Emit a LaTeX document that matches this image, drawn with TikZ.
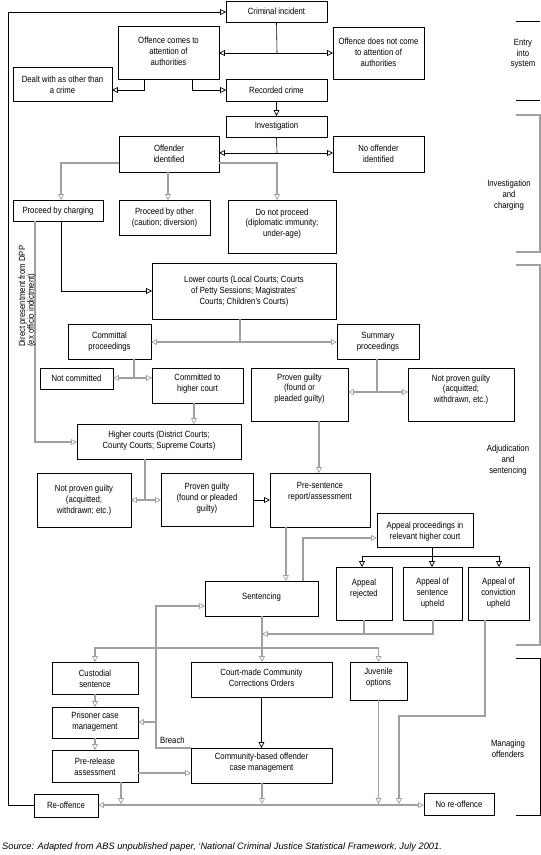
\documentclass[tikz,border=0pt]{standalone}
\usepackage{fontspec}
\setmainfont{Liberation Sans}
\newfontfamily\nfont[FakeStretch=0.86]{Liberation Sans}
\usetikzlibrary{arrows.meta}
\definecolor{grayc}{RGB}{160,160,160}
\newcommand\mkbox[7]{%
  \node[bxs, minimum width={(#4)-(#2)}, minimum height={(#5)-(#3)}] (#1) at ({((#2)+(#4))/2},{((#3)+(#5))/2}) {};
  \node[txt] (#1t) at ({((#2)+(#4))/2},#6) {#7};
}
\begin{document}
\begin{tikzpicture}[x=1pt,y=-1pt,
  >={Triangle[open,length=5.8pt,width=5.8pt,line width=0.7pt]},
  bxs/.style={draw,line width=0.7pt,inner sep=0pt,outer sep=0pt},
  txt/.style={font=\nfont\fontsize{9}{10.8}\selectfont,align=center,inner sep=0pt},
  blk/.style={line width=0.6pt,draw=black},
  gry/.style={line width=1.4pt,draw=grayc},
  brkb/.style={line width=0.8pt,draw=black},
  brkg/.style={line width=1.2pt,draw=grayc},
  ]
\fill[white] (0,0) rectangle (541,855);
\useasboundingbox (0,0) rectangle (541,855);

% boxes
\mkbox{ci}{226}{1}{327}{22}{11.5}{Criminal incident}
\mkbox{oca}{118}{26}{219}{79}{51.5}{Offence comes to\\attention of\\authorities}
\mkbox{onc}{333}{27}{424}{79}{52.5}{Offence does not come\\to attention of\\authorities}
\mkbox{dealt}{13}{67}{112}{101}{85}{Dealt with as other than\\a crime}
\mkbox{rec}{226}{79}{327}{101}{90.5}{Recorded crime}
\mkbox{inv}{226}{116}{327}{137}{126.5}{Investigation}
\mkbox{offid}{119}{136}{219}{172}{153.5}{Offender\\identified}
\mkbox{nooff}{333}{136}{424}{172}{153.5}{No offender\\identified}
\mkbox{pbc}{13}{200}{103}{221}{211}{Proceed by charging}
\mkbox{pbo}{119}{200}{210}{235}{217.5}{Proceed by other\\(caution; diversion)}
\mkbox{dnp}{228}{200}{336}{253}{223.5}{Do not proceed\\(diplomatic immunity;\\under-age)}
\mkbox{lc}{152}{263}{336}{319}{291}{Lower courts (Local Courts; Courts\\of Petty Sessions; Magistrates'\\Courts; Children's Courts)}
\mkbox{comm}{68}{324}{151}{359}{341.5}{Committal\\proceedings}
\mkbox{summ}{337}{324}{419}{359}{341.5}{Summary\\proceedings}
\mkbox{notcom}{40}{368}{113}{389}{378.5}{Not committed}
\mkbox{comhc}{152}{368}{243}{403}{383.5}{Committed to\\higher court}
\mkbox{pgs}{251}{368}{348}{421}{388.5}{Proven guilty\\(found or\\pleaded guilty)}
\mkbox{npgs}{408}{368}{514}{421}{389.5}{Not proven guilty\\(acquitted;\\withdrawn, etc.)}
\mkbox{hc}{77}{424}{241}{459}{440.5}{Higher courts (District Courts;\\County Courts; Supreme Courts)}
\mkbox{npgh}{37}{473}{131}{527}{500}{Not proven guilty\\(acquitted;\\withdrawn; etc.)}
\mkbox{pgh}{161}{473}{253}{526}{498}{Proven guilty\\(found or pleaded\\guilty)}
\mkbox{pres}{270}{473}{370}{527}{492}{Pre-sentence\\report/assessment}
\mkbox{app}{377}{513}{473}{547}{532}{Appeal proceedings in\\relevant higher court}
\mkbox{ar}{336}{567}{392}{620}{589}{Appeal\\rejected}
\mkbox{asu}{403}{567}{462}{620}{593}{Appeal of\\sentence\\upheld}
\mkbox{acu}{468}{567}{529}{620}{593}{Appeal of\\conviction\\upheld}
\mkbox{sent}{205}{581}{318}{616}{597.5}{Sentencing}
\mkbox{cust}{52}{662}{138}{694}{678.5}{Custodial\\sentence}
\mkbox{pcm}{52}{707}{138}{738}{722}{Prisoner case\\management}
\mkbox{prel}{52}{750}{138}{782}{766.5}{Pre-release\\assessment}
\mkbox{ccco}{191}{662}{332}{697}{677.5}{Court-made Community\\Corrections Orders}
\mkbox{cbo}{191}{748}{332}{783}{763}{Community-based offender\\case management}
\mkbox{juv}{350}{662}{407}{700}{677.5}{Juvenile\\options}
\mkbox{reoff}{34}{794}{98}{817}{805.5}{Re-offence}
\mkbox{nore}{424}{793}{494}{815}{804}{No re-offence}

% junction coordinates
\coordinate (j1) at (277,53);
\coordinate (j2) at (277,153);
\coordinate (j3) at (240,342);
\coordinate (j4) at (134,378);
\coordinate (j5) at (377,392);
\coordinate (j6) at (145,500);
\coordinate (j7) at (432,556);
\coordinate (j8) at (262,634);
\coordinate (j9) at (262,648);
\coordinate (jb) at (156,722);

% top block (black)
\draw[blk] (ci.south) -- (j1);
\draw[blk,<->] (oca.east |- j1) -- (onc.west |- j1);
\draw[blk,->] (oca.south -| 144,0) -- (144,90) -- (dealt.east |- 0,90);
\draw[blk,->] (oca.south -| 192,0) -- (192,90) -- (rec.west |- 0,90);
\draw[blk,->] (rec.south) -- (inv.north);
\draw[blk] (inv.south) -- (j2);
\draw[blk,<->] (offid.east |- j2) -- (nooff.west |- j2);
\draw[blk,->] (reoff.west) -- (8,805.5) -- (8,12) -- (ci.west |- 0,12);

% offender identified (gray)
\draw[gry,->] (offid.west |- 0,163) -- (61,163) -- (pbc.north -| 61,0);
\draw[gry,->] (offid.south -| 168,0) -- (pbo.north -| 168,0);
\draw[gry,->] (offid.east |- 0,163) -- (277,163) -- (dnp.north -| 277,0);

% charging
\draw[blk,->] (pbc.south -| 61,0) -- (61,291) -- (lc.west);
\draw[gry,->] (pbc.south -| 35,0) -- (35,442) -- (hc.west |- 0,442);
\node[txt,align=left,font=\nfont\fontsize{9}{8.6}\selectfont,rotate=90,anchor=north west] (dpp) at (18.5,347) {Direct presentment from DPP\\(ex officio indictment)};

% courts
\draw[gry] (lc.south -| j3) -- (j3);
\draw[gry,<->] (comm.east |- j3) -- (summ.west |- j3);
\draw[gry] (comm.south -| j4) -- (j4);
\draw[gry,<->] (notcom.east |- j4) -- (comhc.west |- j4);
\draw[gry] (summ.south -| j5) -- (j5);
\draw[gry,<->] (pgs.east |- j5) -- (npgs.west |- j5);
\draw[gry,->] (comhc.south -| 194,0) -- (hc.north -| 194,0);
\draw[gry] (hc.south -| j6) -- (j6);
\draw[gry,<->] (npgh.east |- j6) -- (pgh.west |- j6);
\draw[blk,->] (pgh.east |- j6) -- (pres.west |- j6);
\draw[gry,->] (pgs.south -| 319,0) -- (pres.north -| 319,0);
\draw[gry,->] (pres.south -| 286,0) -- (sent.north -| 286,0);

% appeals
\draw[gry,->] (sent.north -| 303,0) -- (303,538) -- (app.west |- 0,538);
\draw[blk] (app.south -| j7) -- (j7);
\draw[blk,->] (j7) -- (362,556) -- (ar.north -| 362,0);
\draw[blk,->] (j7) -- (asu.north -| j7);
\draw[blk,->] (j7) -- (499,556) -- (acu.north -| 499,0);
\draw[gry] (ar.south -| 364,0) -- (364,634);
\draw[gry,->] (asu.south -| 433,0) -- (433,634) -- (j8);

% sentencing outcomes
\draw[gry,->] (sent.south -| j8) -- (ccco.north -| j8);
\draw[gry,->] (j9) -| (cust.north);
\draw[gry,->] (j9) -| (juv.north);
\draw[gry,->] (cust.south) -- (pcm.north);
\draw[gry,->] (pcm.south) -- (prel.north);
\draw[gry,->] (prel.east |- 0,773) -- (cbo.west |- 0,773);
\draw[blk,->] (ccco.south) -- (cbo.north);

% breach
\draw[gry,->] (cbo.north west) -- (156,748) -- (156,606) -- (sent.west |- 0,606);
\draw[gry,->] (jb) -- (pcm.east |- jb);
\node[txt,anchor=west] (breach) at (160,740) {Breach};

% exits
\draw[gry,<->] (reoff.east |- 0,805) -- (nore.west |- 0,805);
\draw[gry,->] (prel.south -| 121,0) -- (121,804);
\draw[gry,->] (cbo.south -| 262,0) -- (262,804);
\draw[gry,->] (juv.south) -- (juv.south |- 0,804);
\draw[gry,->] (acu.south -| 485,0) -- (485,716) -- (399,716) -- (399,804);

% stage brackets
\draw[brkb] (516,21) -- (540,21);
\draw[brkb] (516,100) -- (540,100);
\node[txt] (st1) at (523,54) {Entry\\into\\system};
\draw[brkg] (516,115) -- (540,115) -- (540,252) -- (516,252);
\node[txt] (st2) at (509,195) {Investigation\\and\\charging};
\draw[brkg] (516,265) -- (540,265) -- (540,645) -- (516,645);
\node[txt] (st3) at (508,460) {Adjudication\\and\\sentencing};
\draw[brkb] (516,658) -- (540,658) -- (540,815) -- (516,815);
\node[txt] (st4) at (508,748.5) {Managing\\offenders};

% source
\node[anchor=west,inner sep=0pt,font=\fontsize{9.3}{10}\selectfont\itshape] (src) at (2,847) {Source: Adapted from ABS unpublished paper, `National Criminal Justice Statistical Framework, July 2001.};
\end{tikzpicture}
\end{document}
